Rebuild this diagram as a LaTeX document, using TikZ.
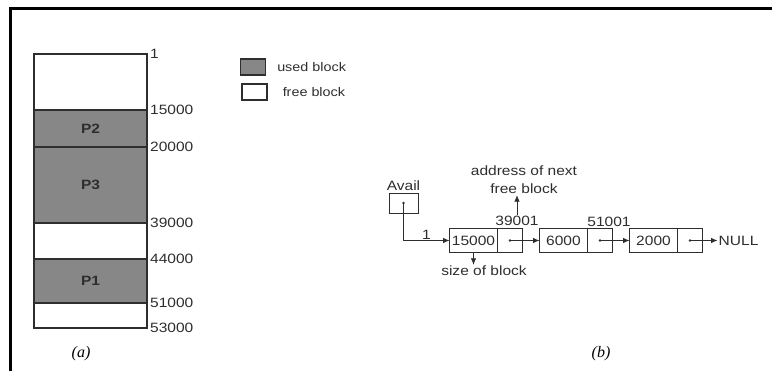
\documentclass[tikz,border=0pt]{standalone}
\usepackage{fontspec}
\setmainfont{Liberation Sans}[FakeStretch=1.15]
\newfontfamily\capfont{Liberation Serif}
\usetikzlibrary{positioning,arrows.meta}
\definecolor{usato}{gray}{0.53}
\definecolor{tratto}{gray}{0.18}

\begin{document}
\begin{tikzpicture}[
    x=1pt, y=-1pt,
    font=\fontsize{13.5}{16}\selectfont,
    blocco/.style={draw=tratto, line width=1.1pt},
    usato/.style={blocco, fill=usato},
    libero/.style={blocco, fill=white},
    cella/.style={draw=tratto, line width=0.9pt, minimum height=24pt,
      inner sep=0pt, outer sep=0pt, text=tratto},
    campo/.style={cella, minimum width=48pt},
    punt/.style={cella, minimum width=25pt},
    freccia/.style={draw=tratto, line width=0.8pt, -{Latex[length=6.5pt,width=5.5pt]}},
    etich/.style={inner sep=1pt, text=tratto},
  ]
  \useasboundingbox (0,0) rectangle (772,371);

  % --- cornice -----------------------------------------------------------
  \draw[line width=3pt] (10.5,371) -- (10.5,9) -- (772,9);

  % --- (a) la memoria ------------------------------------------------------
  \foreach \ya/\yb/\stile in {54/110/libero, 110/147/usato, 147/223/usato,
                              223/259/libero, 259/303/usato, 303/328/libero}{%
    \draw[\stile] (34,\ya) rectangle (147,\yb);
  }
  \foreach \y/\t in {54/1, 110/15000, 147/20000, 223/39000,
                     259/44000, 303/51000, 328/53000}{%
    \node[etich, anchor=west] (m\t) at (149,\y) {\t};
  }
  \node[etich, font=\fontsize{13.5}{15}\selectfont\bfseries] (p2) at (90.5,128.5) {P2};
  \node[etich, font=\fontsize{13.5}{15}\selectfont\bfseries] (p3) at (90.5,185) {P3};
  \node[etich, font=\fontsize{13.5}{15}\selectfont\bfseries] (p1) at (90.5,281) {P1};

  % --- legenda -------------------------------------------------------------
  \node[usato, minimum width=25pt, minimum height=16pt, inner sep=0pt] (legu) at (253,67) {};
  \node[libero, minimum width=25pt, minimum height=16pt, inner sep=0pt] (legl) at (254.5,92) {};
  \node[etich, right=10pt of legu, font=\fontsize{12.5}{15}\selectfont] (legut) {used block};
  \node[etich, right=14pt of legl, font=\fontsize{12.5}{15}\selectfont] (leglt) {free block};

  % --- (b) la lista dei blocchi liberi --------------------------------------
  \node[cella, minimum width=29pt, minimum height=20pt] (avail) at (403.5,203) {};
  \node[etich, above=1pt of avail] (availt) {Avail};
  \fill[tratto] (avail.center) circle (1.4pt);

  \node[campo] (n1c) at (473.5,240.5) {15000};
  \node[punt, right=0pt of n1c] (n1p) {};
  \node[campo, right=17pt of n1p] (n2c) {6000};
  \node[punt, right=0pt of n2c] (n2p) {};
  \node[campo, right=17pt of n2p] (n3c) {2000};
  \node[punt, right=0pt of n3c] (n3p) {};
  \node[etich, right=15pt of n3p] (nullo) {NULL};

  \foreach \n in {n1p,n2p,n3p}{%
    \fill[tratto] (\n.center) circle (1.4pt);
  }

  \draw[freccia] (avail.center) |- node[etich, pos=0.75, above] (uno) {1} (n1c.west);
  \draw[freccia] (n1p.center) -- (n2c.west);
  \draw[freccia] (n2p.center) -- (n3c.west);
  \draw[freccia] (n3p.center) -- (nullo.west);

  % --- indirizzi e didascalie ----------------------------------------------
  \node[etich] (ind2) at (517,221) {39001};
  \node[etich] (ind3) at (609,222) {51001};
  \node[etich, align=center, font=\fontsize{13.5}{18}\selectfont] (prox) at (524,180)
    {address of next\\free block};
  \draw[freccia] (ind2.north) -- (ind2.north |- prox.south);

  \node[etich] (dim) at (484,271) {size of block};
  \draw[freccia] (n1c.south) -- (n1c.south |- dim.north);

  \node[font=\capfont\itshape\fontsize{16}{18}\selectfont] (cap-a) at (81,354) {(a)};
  \node[font=\capfont\itshape\fontsize{16}{18}\selectfont] (cap-b) at (601,354) {(b)};

\end{tikzpicture}
\end{document}
